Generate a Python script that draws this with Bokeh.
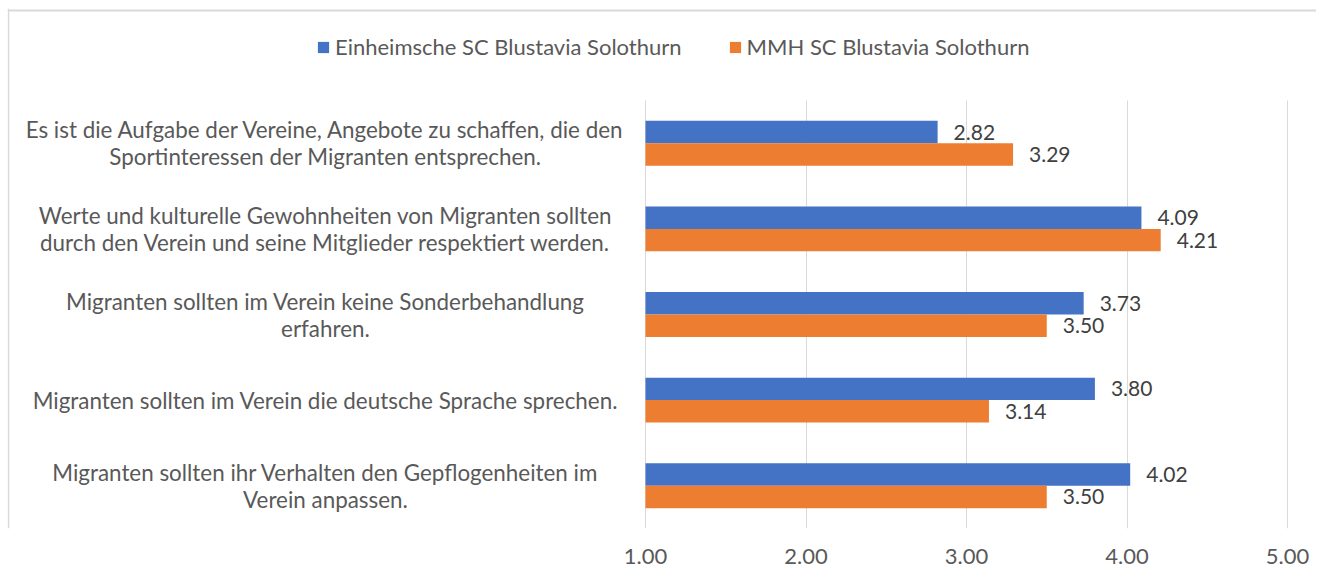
from bokeh.plotting import figure
from bokeh.models import (Range1d, FixedTicker, NumeralTickFormatter, Legend, LegendItem,
                          ColumnDataSource, Span, Grid, BoxAnnotation)
from bokeh.core.properties import value
from bokeh.embed import file_html
from bokeh.resources import INLINE

categories = [
    "Es ist die Aufgabe der Vereine, Angebote zu schaffen, die den\nSportinteressen der Migranten entsprechen.",
    "Werte und kulturelle Gewohnheiten von Migranten sollten\ndurch den Verein und seine Mitglieder respektiert werden.",
    "Migranten sollten im Verein keine Sonderbehandlung\nerfahren.",
    "Migranten sollten im Verein die deutsche Sprache sprechen.",
    "Migranten sollten ihr Verhalten den Gepflogenheiten im\nVerein anpassen.",
]
einheimische = [2.82, 4.09, 3.73, 3.80, 4.02]
mmh = [3.29, 4.21, 3.50, 3.14, 3.50]
series_names = ["Einheimsche SC Blustavia Solothurn", "MMH SC Blustavia Solothurn"]
x_ticks = [1, 2, 3, 4, 5]

BLUE = "#4472C4"
ORANGE = "#ED7D31"
TEXT = "#595959"
FONT = "Lato"

n = len(categories)
pos = [n - 1 - i for i in range(n)]          # first category on top
BH = 0.262                                    # bar thickness (category units)

src = ColumnDataSource(dict(
    cat=categories,
    pos=pos,
    ya=[v + BH / 2 for v in pos],
    yb=[v - BH / 2 for v in pos],
    a=einheimische,
    b=mmh,
    a_lbl=[f"{v:.2f}" for v in einheimische],
    b_lbl=[f"{v:.2f}" for v in mmh],
    lx=[-0.994] * n,
))

# layout constants (pixels of the picture)
PX_X = 160.5      # px per x unit
PX_Y = 85.6       # px per category
W, H = 1316, 571
FR_L, FR_T, FR_B = 7, 8, 528

x0 = 1 - (645 - FR_L) / PX_X
x1 = 5 + (W - 1287) / PX_X
y0 = -0.5
y1 = y0 + (FR_B - FR_T) / PX_Y

p = figure(width=W, height=H,
           x_range=Range1d(x0, x1), y_range=Range1d(y0, y1),
           output_backend="svg", toolbar_location=None,
           y_axis_location=None,
           min_border_left=FR_L, min_border_right=0,
           min_border_top=FR_T, min_border_bottom=H - FR_B)
p.outline_line_color = None
p.background_fill_color = "white"

r1 = p.hbar(y="ya", left=1, right="a", height=BH, source=src,
            fill_color=BLUE, line_color=None)
r2 = p.hbar(y="yb", left=1, right="b", height=BH, source=src,
            fill_color=ORANGE, line_color=None)

p.text(x="a", y="ya", text="a_lbl", source=src,
       x_offset=16, text_align="left", text_baseline="middle",
       text_font=value(FONT), text_font_size="21px", text_color="#404040")
p.text(x="b", y="yb", text="b_lbl", source=src,
       x_offset=16, text_align="left", text_baseline="middle",
       text_font=value(FONT), text_font_size="21px", text_color="#404040")

p.text(x="lx", y="pos", text="cat", source=src, text_align="center",
       text_baseline="middle", text_line_height=1.0,
       text_font=value(FONT), text_font_size="22.4px", text_color=TEXT)

ax = p.xaxis[0]
ax.ticker = FixedTicker(ticks=x_ticks)
ax.formatter = NumeralTickFormatter(format="0.00")
ax.axis_line_color = None
ax.major_tick_line_color = None
ax.minor_tick_line_color = None
ax.major_label_standoff = 14
ax.major_label_text_font = FONT
ax.major_label_text_font_size = "22px"
ax.major_label_text_color = TEXT

p.xgrid.ticker = FixedTicker(ticks=x_ticks)
p.xgrid.grid_line_color = "#D9D9D9"
p.xgrid.grid_line_width = 1
p.ygrid.visible = False
if "cross_bounds" in Grid.properties():
    p.xgrid.cross_bounds = (y0, n - 0.5)
else:
    p.add_layout(BoxAnnotation(bottom=n - 0.5, fill_color="white", fill_alpha=1,
                               line_color=None, level="underlay"))

# chart-area border (top and left edges)
p.add_layout(Span(location=y0 + (FR_B - 10) / PX_Y, dimension="width",
                  line_color="#D9D9D9", line_width=2))
p.add_layout(Span(location=1 - (645 - 8) / PX_X, dimension="height",
                  line_color="#D9D9D9", line_width=1.5))

legend = Legend(items=[LegendItem(label=series_names[0], renderers=[r1]),
                       LegendItem(label=series_names[1], renderers=[r2])],
                orientation="horizontal", location=(309, 468),
                glyph_width=14, glyph_height=14, label_standoff=5, spacing=46,
                padding=0, margin=0, border_line_color=None,
                background_fill_alpha=0,
                label_text_font=FONT, label_text_font_size="22px", label_text_color=TEXT)
p.add_layout(legend, "center")

open("out.html", "w").write(file_html(p, INLINE))
